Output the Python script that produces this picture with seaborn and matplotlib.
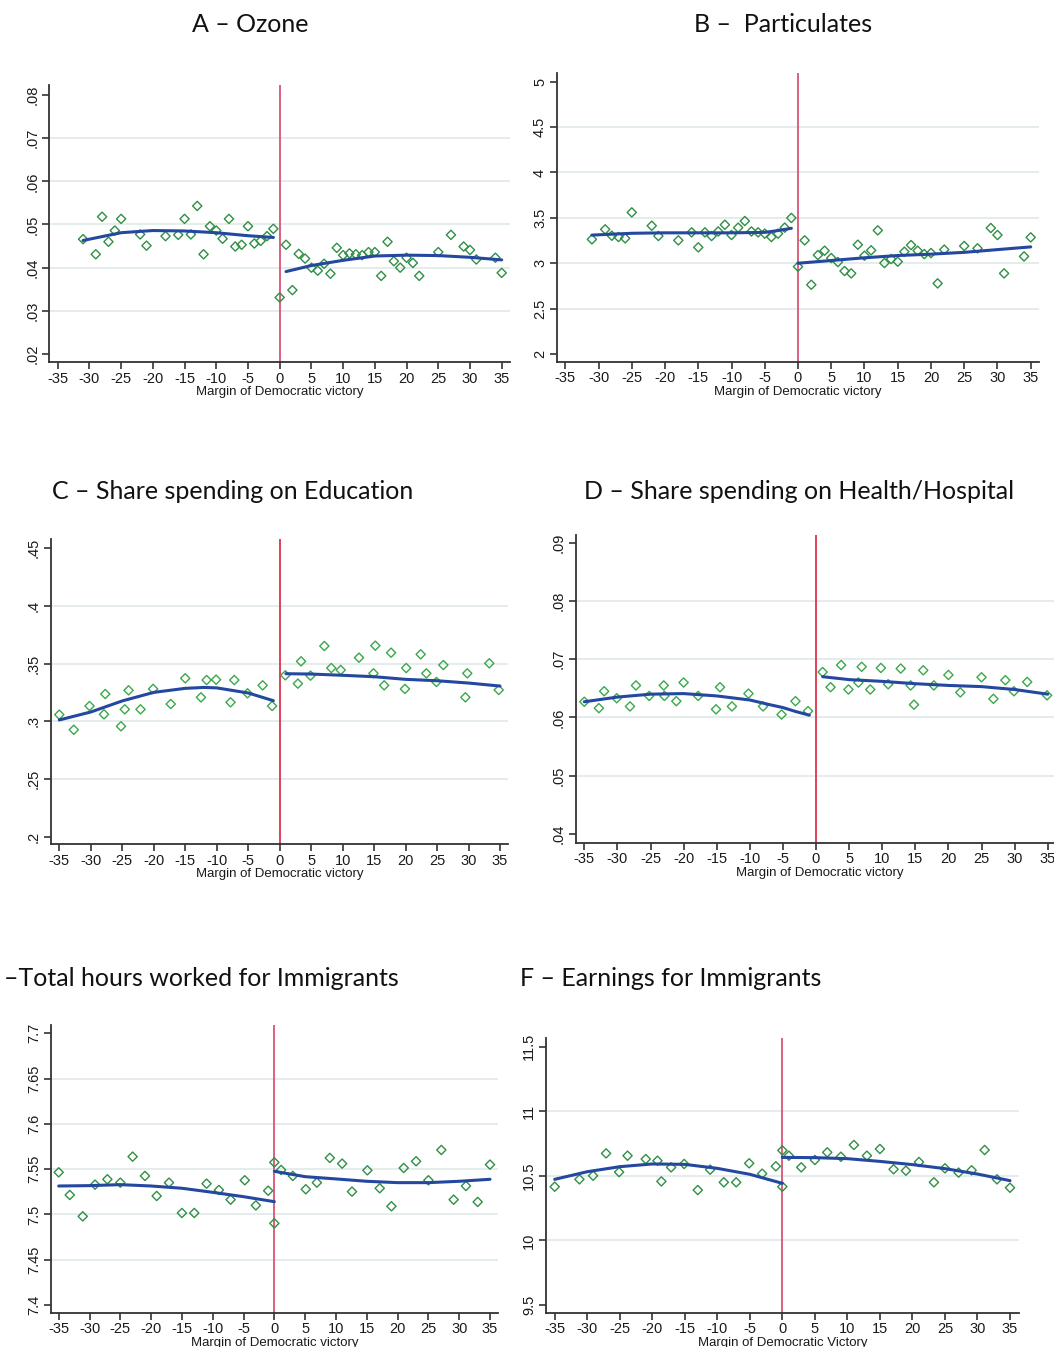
import numpy as np
import matplotlib.pyplot as plt
import seaborn as sns
import pandas as pd

# A - Ozone
oz_x = [-31, -29, -28, -27, -26, -25, -22, -21, -18, -16, -15, -14, -13, -12, -11, -10, -9, -8, -7, -6, -5, -4, -3, -2, -1,
        0, 1, 2, 3, 4, 5, 6, 7, 8, 9, 10, 11, 12, 13, 14, 15, 16, 17, 18, 19, 20, 21, 22, 25, 27, 29, 30, 31, 34, 35]
oz_y = [.0466, .0431, .0518, .0460, .0486, .0513, .0477, .0451, .0473, .0476, .0513, .0477, .0543, .0431, .0496, .0486, .0467, .0513, .0449, .0453, .0496, .0456, .0462, .0473, .0490,
        .0331, .0453, .0348, .0432, .0421, .0400, .0393, .0409, .0386, .0446, .0429, .0433, .0431, .0429, .0436, .0436, .0381, .0460, .0415, .0400, .0423, .0411, .0381, .0436, .0476, .0449, .0441, .0419, .0423, .0388]
oz_fit_lx = [-31, -25, -20, -15, -10, -5, -1]
oz_fit_ly = [.0463, .0481, .0486, .0485, .0481, .0474, .0470]
oz_fit_rx = [1, 5, 10, 15, 20, 25, 30, 35]
oz_fit_ry = [.0391, .0405, .0417, .0427, .0429, .0428, .0424, .0418]

# B - Particulates
pm_x = [-31, -29, -28, -27, -26, -25, -22, -21, -18, -16, -15, -14, -13, -12, -11, -10, -9, -8, -7, -6, -5, -4, -3, -2, -1,
        0, 1, 2, 3, 4, 5, 6, 7, 8, 9, 10, 11, 12, 13, 14, 15, 16, 17, 18, 19, 20, 21, 22, 25, 27, 29, 30, 31, 34, 35]
pm_y = [3.263, 3.373, 3.303, 3.289, 3.274, 3.560, 3.413, 3.300, 3.252, 3.340, 3.175, 3.340, 3.300, 3.350, 3.424, 3.311, 3.392, 3.465, 3.350, 3.340, 3.326, 3.289, 3.326, 3.392, 3.499,
        2.962, 3.252, 2.763, 3.090, 3.138, 3.057, 3.013, 2.914, 2.888, 3.204, 3.083, 3.142, 3.362, 3.002, 3.046, 3.017, 3.127, 3.200, 3.138, 3.101, 3.112, 2.778, 3.150, 3.190, 3.164, 3.388, 3.311, 2.888, 3.075, 3.285]
pm_fit_lx = [-31, -25, -20, -10, -5, -3, -1]
pm_fit_ly = [3.31, 3.33, 3.335, 3.335, 3.34, 3.36, 3.385]
pm_fit_rx = [0, 5, 10, 15, 20, 25, 30, 35]
pm_fit_ry = [3.0, 3.03, 3.06, 3.085, 3.10, 3.12, 3.15, 3.18]

# C - Education
ed_x = [-35, -32.7, -30.2, -27.7, -27.9, -25.2, -24.6, -24, -22.1, -20.1, -17.3, -15, -12.5, -11.6, -10.1, -7.8, -7.2, -5.1, -2.7, -1.2,
        0.9, 2.9, 3.4, 4.9, 7.1, 8.2, 9.7, 12.6, 14.9, 15.2, 16.6, 17.7, 19.9, 20.1, 22.4, 23.3, 24.9, 26, 29.5, 29.8, 33.3, 34.8]
ed_y = [.3058, .2927, .3133, .3237, .3061, .2957, .3104, .3269, .3104, .3281, .3150, .3373, .3208, .3358, .3361, .3165, .3358, .3243, .3312, .3133,
        .3399, .3327, .3520, .3396, .3653, .3462, .3445, .3552, .3416, .3656, .3312, .3595, .3281, .3462, .3581, .3416, .3341, .3488, .3208, .3416, .3503, .3272]
ed_fit_lx = [-35, -30, -25, -20, -15, -12, -10, -5, -1]
ed_fit_ly = [.3012, .3081, .3177, .3251, .3286, .3294, .3290, .3246, .3179]
ed_fit_rx = [1, 5, 10, 15, 20, 25, 30, 35]
ed_fit_ry = [.3413, .3410, .3399, .3387, .3364, .3352, .3332, .3306]

# D - Health/Hospital
he_x = [-35, -32.8, -32, -30.1, -28.1, -27.2, -25.2, -23, -22.9, -21.1, -20, -17.8, -15.1, -14.5, -12.7, -10.2, -8, -5.2, -3.1, -1.2,
        1, 2.2, 3.8, 4.9, 6.4, 6.9, 8.2, 9.8, 10.9, 12.8, 14.3, 14.8, 16.2, 17.8, 20, 21.8, 25, 26.8, 28.6, 29.9, 31.9, 34.9]
he_y = [.0627, .0616, .0645, .0633, .0619, .0655, .0637, .0655, .0637, .0628, .0660, .0637, .0614, .0652, .0619, .0641, .0619, .0605, .0628, .0611,
        .0678, .0652, .0690, .0648, .0660, .0687, .0648, .0685, .0657, .0684, .0655, .0622, .0681, .0655, .0673, .0643, .0669, .0632, .0664, .0645, .0661, .0638]
he_fit_lx = [-35, -30, -25, -20, -15, -10, -7, -5, -3, -1]
he_fit_ly = [.0627, .0635, .0640, .0641, .0637, .0630, .0622, .0617, .0610, .0604]
he_fit_rx = [1, 5, 10, 15, 20, 25, 30, 35]
he_fit_ry = [.0670, .0665, .0662, .0658, .0655, .0653, .0648, .0640]

# E - Total hours worked for immigrants
hr_x = [-35, -33.2, -31.1, -29.1, -27.1, -25, -23, -21, -19.1, -17.1, -15, -13, -11, -9, -7.1, -4.8, -3, -1, 0, 0,
        1.1, 3, 5.1, 6.9, 9, 11, 12.6, 15.1, 17.1, 19, 21, 23, 25, 27.1, 29.1, 31.1, 33, 35]
hr_y = [7.5465, 7.5215, 7.4979, 7.5329, 7.5388, 7.5351, 7.5638, 7.5425, 7.5204, 7.5351, 7.5016, 7.5016, 7.5340, 7.5270, 7.5163, 7.5377, 7.5100, 7.5262, 7.5575, 7.4902,
        7.5491, 7.5425, 7.5278, 7.5351, 7.5624, 7.5561, 7.5252, 7.5487, 7.5289, 7.5090, 7.5513, 7.5587, 7.5377, 7.5712, 7.5163, 7.5314, 7.5138, 7.5550]
hr_fit_lx = [-35, -30, -25, -20, -15, -10, -5, 0]
hr_fit_ly = [7.5314, 7.5318, 7.5329, 7.5314, 7.5289, 7.5244, 7.5196, 7.5141]
hr_fit_rx = [0, 5, 10, 15, 20, 25, 30, 35]
hr_fit_ry = [7.5476, 7.5417, 7.5392, 7.5366, 7.5351, 7.5351, 7.5366, 7.5388]

# F - Earnings for immigrants
ea_x = [-35, -31.2, -29.1, -27.1, -25.1, -23.8, -21, -19.2, -18.6, -17.1, -15.1, -13, -11.1, -9, -7.1, -5.1, -3.1, -1, 0, 0,
        1, 2.9, 5, 6.9, 9, 11, 13, 15, 17.1, 19, 21, 23.3, 25, 27.1, 29.1, 31.1, 33, 35]
ea_y = [10.416, 10.473, 10.501, 10.674, 10.529, 10.656, 10.630, 10.617, 10.457, 10.566, 10.592, 10.390, 10.548, 10.450, 10.450, 10.597, 10.517, 10.574, 10.697, 10.416,
        10.656, 10.566, 10.623, 10.682, 10.648, 10.739, 10.656, 10.708, 10.551, 10.540, 10.607, 10.450, 10.558, 10.525, 10.543, 10.700, 10.473, 10.408]
ea_fit_lx = [-35, -30, -25, -20, -15, -10, -5, 0]
ea_fit_ly = [10.473, 10.532, 10.571, 10.592, 10.589, 10.558, 10.512, 10.442]
ea_fit_rx = [0, 5, 10, 15, 20, 25, 30, 35]
ea_fit_ry = [10.643, 10.641, 10.633, 10.612, 10.587, 10.556, 10.514, 10.463]

x_ticks = list(range(-35, 40, 5))

panels = [
    dict(title="A \u2013 Ozone", tpos=(250, 24, "center"), x=oz_x, y=oz_y,
         flx=oz_fit_lx, fly=oz_fit_ly, frx=oz_fit_rx, fry=oz_fit_ry,
         yt=[.02, .03, .04, .05, .06, .07, .08], ytl=[".02", ".03", ".04", ".05", ".06", ".07", ".08"],
         box=(49, 85, 510, 362), xpx=(57.7, 501.7), ypx=(95, 354),
         xlabel="Margin of Democratic victory", green="#2f8f45", red="#d9607e"),
    dict(title="B \u2013  Particulates", tpos=(783, 24, "center"), x=pm_x, y=pm_y,
         flx=pm_fit_lx, fly=pm_fit_ly, frx=pm_fit_rx, fry=pm_fit_ry,
         yt=[2, 2.5, 3, 3.5, 4, 4.5, 5], ytl=["2", "2.5", "3", "3.5", "4", "4.5", "5"],
         box=(556.7, 73, 1039, 361.7), xpx=(565.3, 1030.7), ypx=(81.7, 354),
         xlabel="Margin of Democratic victory", green="#2f8f45", red="#d9607e"),
    dict(title="C \u2013 Share spending on Education", tpos=(233, 492, "center"), x=ed_x, y=ed_y,
         flx=ed_fit_lx, fly=ed_fit_ly, frx=ed_fit_rx, fry=ed_fit_ry,
         yt=[.2, .25, .3, .35, .4, .45], ytl=[".2", ".25", ".3", ".35", ".4", ".45"],
         box=(50.7, 539, 508, 844), xpx=(59.3, 500), ypx=(548.3, 836.7),
         xlabel="Margin of Democratic victory", green="#3aa84a", red="#e0405a"),
    dict(title="D \u2013 Share spending on Health/Hospital", tpos=(799, 492, "center"), x=he_x, y=he_y,
         flx=he_fit_lx, fly=he_fit_ly, frx=he_fit_rx, fry=he_fit_ry,
         yt=[.04, .05, .06, .07, .08, .09], ytl=[".04", ".05", ".06", ".07", ".08", ".09"],
         box=(575.7, 535, 1064, 842.7), xpx=(584.3, 1047.7), ypx=(542.7, 834),
         xlabel="Margin of Democratic victory", green="#3aa84a", red="#e0405a"),
    dict(title="\u2013Total hours worked for Immigrants", tpos=(4, 979, "left"), x=hr_x, y=hr_y,
         flx=hr_fit_lx, fly=hr_fit_ly, frx=hr_fit_rx, fry=hr_fit_ry,
         yt=[7.4, 7.45, 7.5, 7.55, 7.6, 7.65, 7.7], ytl=["7.4", "7.45", "7.5", "7.55", "7.6", "7.65", "7.7"],
         box=(51, 1025, 498, 1312.7), xpx=(58.7, 490), ypx=(1033.3, 1305),
         xlabel="Margin of Democratic victory", green="#2f8f45", red="#d9607e"),
    dict(title="F \u2013 Earnings for Immigrants", tpos=(671, 979, "center"), x=ea_x, y=ea_y,
         flx=ea_fit_lx, fly=ea_fit_ly, frx=ea_fit_rx, fry=ea_fit_ry,
         yt=[9.5, 10, 10.5, 11, 11.5], ytl=["9.5", "10", "10.5", "11", "11.5"],
         box=(546, 1038, 1019, 1312.7), xpx=(554.7, 1010), ypx=(1046.7, 1305),
         xlabel="Margin of Democratic Victory", green="#2f8f45", red="#d9607e"),
]

W, H = 1054, 1347
sns.set_theme(style="white")
plt.rcParams['font.family'] = ['Liberation Sans', 'DejaVu Sans']
fig = plt.figure(figsize=(W / 100, H / 100), dpi=100)
blue = "#2447a0"

for p in panels:
    l, t, r, b = p["box"]
    ax = fig.add_axes([l / W, 1 - b / H, (r - l) / W, (b - t) / H])
    # map pixel positions of first/last ticks to axis limits
    x0p, x1p = p["xpx"]
    sx = 70 / (x1p - x0p)
    ax.set_xlim(-35 - (x0p - l) * sx, 35 + (r - x1p) * sx)
    ytop, ybot = p["yt"][-1], p["yt"][0]
    y0p, y1p = p["ypx"]
    sy = (ytop - ybot) / (y1p - y0p)
    ax.set_ylim(ybot - (b - y1p) * sy, ytop + (y0p - t) * sy)

    for v in p["yt"][1:-1]:
        ax.axhline(v, color="#e4ecec", lw=1.4, zorder=0)
    ax.axvline(0, color=p["red"], lw=1.4, zorder=1)

    sns.scatterplot(x=p["x"], y=p["y"], ax=ax, marker="D", s=22,
                    facecolor="none", edgecolor=p["green"], linewidth=1.0, zorder=3)
    sns.lineplot(x=p["flx"], y=p["fly"], ax=ax, color=blue, lw=2.2, zorder=4)
    sns.lineplot(x=p["frx"], y=p["fry"], ax=ax, color=blue, lw=2.2, zorder=4)

    ax.set_xticks(x_ticks)
    ax.set_xticklabels([str(v) for v in x_ticks])
    ax.set_yticks(p["yt"])
    ax.set_yticklabels(p["ytl"], rotation=90, va="center")
    ax.tick_params(axis="both", direction="out", length=5, width=1.2, color="#333333",
                   labelsize=10.5, labelcolor="#1a1a1a", pad=2)
    ax.tick_params(axis="x", bottom=True)
    ax.tick_params(axis="y", left=True)
    for s in ["top", "right"]:
        ax.spines[s].set_visible(False)
    for s in ["left", "bottom"]:
        ax.spines[s].set_color("#333333")
        ax.spines[s].set_linewidth(1.3)
    ax.set_xlabel(p["xlabel"], fontsize=9.5, color="#1a1a1a", labelpad=0.5)
    ax.set_ylabel("")
    ax.set_facecolor("white")

    tx, ty, ha = p["tpos"]
    fig.text(tx / W, 1 - ty / H, p["title"], ha=ha, va="center", fontsize=18,
             family=["Lato", "DejaVu Sans"], color="#111111")

fig.savefig("out.png", dpi=100, facecolor="white")
